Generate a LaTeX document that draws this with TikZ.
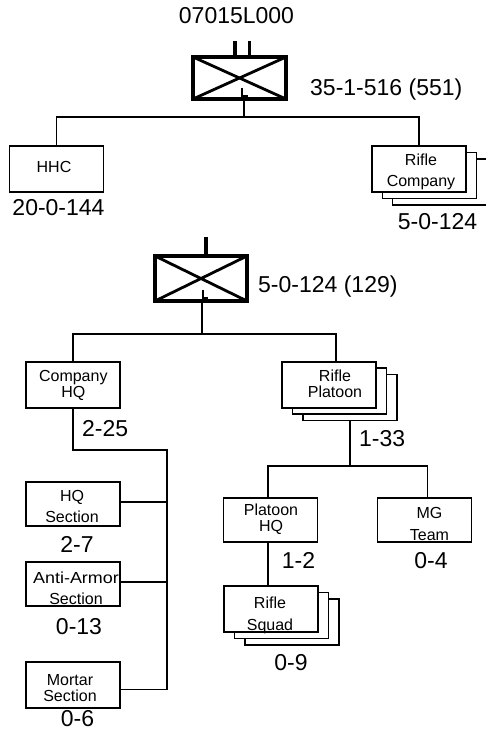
\documentclass[tikz,border=0pt]{standalone}
\usepackage{fontspec}
\setmainfont{Liberation Sans}
\begin{document}
\begin{tikzpicture}[x=1pt,y=-1pt,
  wire/.style={line width=1.4pt},
  unit/.style={draw, line width=1.5pt, fill=white, minimum width=94pt,
    minimum height=46pt, inner sep=0pt, outer sep=0pt},
  shortunit/.style={unit, minimum height=44pt},
  boxtext/.style={font=\fontsize{16}{16}\selectfont, align=center, inner sep=0pt},
  strength/.style={font=\fontsize{23}{23}\selectfont, inner sep=0pt},
  emblem/.style={draw, line width=4pt, inner sep=0pt, outer sep=0pt},
  cross/.style={line width=2.8pt},
  echelon/.style={line width=3.2pt},
  baseL/.style={line width=2.2pt}
]
\useasboundingbox (0,0) rectangle (486,732);

% ---- battalion symbol ----
\node[strength, anchor=base] (bnid) at (236.5,23) {07015L000};
\node[emblem, minimum width=93pt, minimum height=42pt] (bn) at (239.5,78) {};
\draw[cross] (bn.north west) -- (bn.south east) (bn.south west) -- (bn.north east);
\draw[echelon] ([xshift=-4.5pt]bn.north) -- ++(0,-16)
               ([xshift=10pt]bn.north) -- ++(0,-16);
\draw[baseL] ([shift={(2.5,-11)}]bn.south) -- ++(0,8) -- ++(6,0);
\node[strength, anchor=base west] (bnstr) at (310,95) {35-1-516 (551)};

\coordinate (bus1) at (244,117);
\draw[wire] (bus1 |- bn.south) -- (bus1);

% ---- HHC and rifle companies ----
\node[unit] (hhc) at (56.5,169) {};
\node[boxtext] (hhctext) at (54,167) {HHC};
\node[unit] (rc3) at (439.5,182) {};
\node[unit] (rc2) at (429.5,175.5) {};
\node[unit] (rc) at (419,169) {};
\node[boxtext] (rctext) at (421,172) {Rifle\\[5pt]Company};
\draw[wire] (hhc.north) |- (bus1) -| (rc.north);
\node[strength, anchor=base] (hhcstr) at (58.5,215) {20-0-144};
\node[strength, anchor=base] (rcstr) at (437.5,229) {5-0-124};

% ---- company symbol ----
\node[emblem, minimum width=92pt, minimum height=45pt] (co) at (201,278.5) {};
\draw[cross] (co.north west) -- (co.south east) (co.south west) -- (co.north east);
\draw[echelon] ([xshift=5pt]co.north) -- ++(0,-19);
\draw[baseL] ([shift={(2,-11)}]co.south) -- ++(0,8) -- ++(5,0);
\node[strength, anchor=base west] (costr) at (258,292) {5-0-124 (129)};

\coordinate (bus2) at (202,334);
\draw[wire] (bus2 |- co.south) -- (bus2);

% ---- company HQ and rifle platoons ----
\node[unit] (chq) at (73,385) {};
\node[boxtext] (chqtext) at (73.3,385.5) {Company\\HQ};
\node[unit] (rp3) at (350,397.5) {};
\node[unit] (rp2) at (339.5,391) {};
\node[unit] (rp) at (329,385) {};
\node[boxtext] (rptext) at (335,384) {Rifle\\Platoon};
\coordinate (rpdrop) at (336,334);
\draw[wire] (chq.north) |- (rpdrop) -- (rpdrop |- rp.north);
\node[strength, anchor=base west] (chqstr) at (82,436) {2-25};
\node[strength, anchor=base west] (rpstr) at (359,446) {1-33};

% ---- company HQ sections ----
\coordinate (spine) at (167,450);
\node[shortunit] (hqs) at (73,504) {};
\node[boxtext] (hqstext) at (72,506) {HQ\\[5pt]Section};
\node[shortunit] (aa) at (73,584) {};
\node[boxtext] (aatext) at (76,588) {\scalebox{1.12}[1]{Anti-Armor}\\[5pt]Section};
\node[unit] (mort) at (73,685) {};
\node[boxtext] (morttext) at (70,688.5) {Mortar\\Section};
\path ([yshift=2pt]hqs.east) coordinate (hqsjoin)
      ([yshift=2pt]aa.east) coordinate (aajoin)
      ([yshift=-4.5pt]mort.east) coordinate (mortjoin);
\draw[wire] (chq.south) |- (spine) -- (spine |- mortjoin) -- (mortjoin);
\draw[wire] (hqsjoin) -- (hqsjoin -| spine);
\draw[wire] (aajoin) -- (aajoin -| spine);
\node[strength, anchor=base] (hqsstr) at (77,552) {2-7};
\node[strength, anchor=base] (aastr) at (79,634) {0-13};
\node[strength, anchor=base] (mortstr) at (77.5,726.5) {0-6};

% ---- platoon breakdown ----
\coordinate (bus3) at (350,466);
\draw[wire] (bus3 |- rp3.south) -- (bus3);
\node[shortunit] (phq) at (270.5,520) {};
\node[boxtext] (phqtext) at (271,519.5) {Platoon\\HQ};
\node[shortunit] (mg) at (424.7,520) {};
\node[boxtext] (mgtext) at (429.5,524) {MG\\[5.5pt]Team};
\path ([xshift=-2.5pt]phq.north) coordinate (phqtop)
      ([xshift=3pt]mg.north) coordinate (mgtop)
      ([xshift=-2.5pt]phq.south) coordinate (phqfoot);
\draw[wire] (phqtop) |- (bus3) -| (mgtop);
\node[unit] (rs3) at (292,622) {};
\node[unit] (rs2) at (281.5,615.5) {};
\node[unit] (rs) at (271,609) {};
\node[boxtext] (rstext) at (270,615.5) {Rifle\\[5.5pt]Squad};
\draw[wire] (phqfoot) -- (phqfoot |- rs.north);
\node[strength, anchor=base] (phqstr) at (298.5,568) {1-2};
\node[strength, anchor=base] (mgstr) at (431,568) {0-4};
\node[strength, anchor=base] (rsstr) at (291,670) {0-9};
\end{tikzpicture}
\end{document}
